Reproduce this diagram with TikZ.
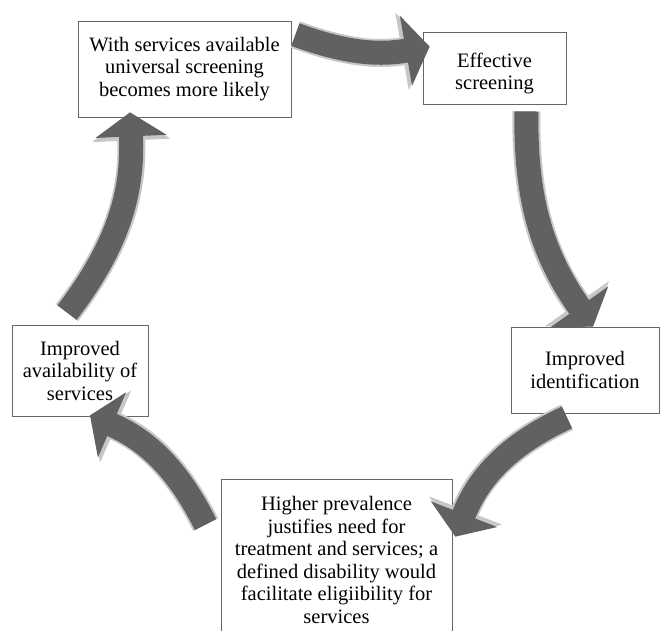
\documentclass[tikz,border=0pt]{standalone}
\usepackage{fontspec}
\setmainfont{Liberation Serif}
\usetikzlibrary{arrows.meta,positioning}

\begin{document}
\begin{tikzpicture}[x=1pt,y=1pt,
  box/.style={draw=black!60, line width=0.8pt, fill=white, align=center,
    inner sep=2pt, font=\rmfamily\fontsize{20.5}{22.5}\selectfont},
  cyc/.style={draw=black!62, line width=24pt,
    -{Triangle[width=70pt,length=24pt]},
    preaction={draw=black!22, line width=28pt,
      -{Triangle[width=77pt,length=28pt]}}}]
\useasboundingbox (0,0) rectangle (661,630);

% boxes of the cycle
\node[box, minimum width=213pt, minimum height=96pt] (serv) at (184.5,561)
  {With services available\\universal screening\\becomes more likely};
\node[box, minimum width=143pt, minimum height=72pt] (eff) at (494.5,562)
  {\rule{0pt}{25pt}Effective\\screening};
\node[box, minimum width=148pt, minimum height=86pt] (iden) at (585,260)
  {Improved\\identification};
\node[box, minimum width=231pt, minimum height=162pt] (prev) at (336.5,70)
  {Higher prevalence\\justifies need for\\treatment and services; a\\defined disability would\\facilitate eligiibility for\\services};
\node[box, minimum width=136pt, minimum height=91pt] (avail) at (80,259.5)
  {Improved\\availability of\\services};

% arrows
\draw[cyc] ([xshift=4pt,yshift=-14pt]serv.north east) to[bend right=15] ([xshift=7pt,yshift=-15pt]eff.north west);
\draw[cyc] ([xshift=-40pt,yshift=-7pt]eff.south east) to[bend right=18] ([xshift=8pt]iden.north);
\draw[cyc] ([xshift=-18pt,yshift=-4pt]iden.south) to[bend right=22] ([xshift=3pt,yshift=-58pt]prev.north east);
\draw[cyc] ([xshift=-15pt,yshift=-46pt]prev.north west) to[bend right=20] ([xshift=10pt,yshift=1pt]avail.south);
\draw[cyc] ([xshift=-13pt,yshift=12pt]avail.north) to[bend right=20] ([xshift=-54.5pt,yshift=5pt]serv.south);
\end{tikzpicture}
\end{document}
